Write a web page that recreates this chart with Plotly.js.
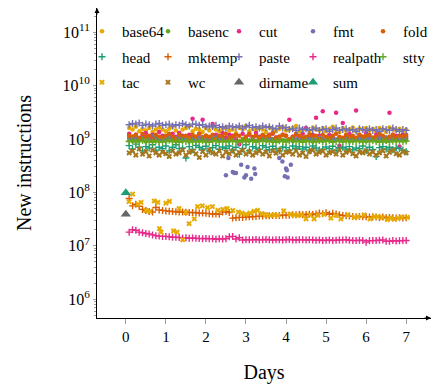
<!DOCTYPE html>
<html><head><meta charset="utf-8">
<script src="https://cdn.plot.ly/plotly-3.0.1.min.js"></script>
<style>html,body{margin:0;padding:0;background:#fff}#chart{width:435px;height:385px}</style>
</head><body><div id="chart"></div>
<script>
// Days (2-hour sampling)
const days = [
0.083,0.167,0.25,0.333,0.417,0.5,0.583,0.667,0.75,0.833,0.917,1,
1.083,1.167,1.25,1.333,1.417,1.5,1.583,1.667,1.75,1.833,1.917,2,
2.083,2.167,2.25,2.333,2.417,2.5,2.583,2.667,2.75,2.833,2.917,3,
3.083,3.167,3.25,3.333,3.417,3.5,3.583,3.667,3.75,3.833,3.917,4,
4.083,4.167,4.25,4.333,4.417,4.5,4.583,4.667,4.75,4.833,4.917,5,
5.083,5.167,5.25,5.333,5.417,5.5,5.583,5.667,5.75,5.833,5.917,6,
6.083,6.167,6.25,6.333,6.417,6.5,6.583,6.667,6.75,6.833,6.917,7];

const base64 = [
1.6e9,1.5e9,1.7e9,1.4e9,1.55e9,1.45e9,1.6e9,1.35e9,1.5e9,1.65e9,1.5e9,1.4e9,
1.55e9,1.7e9,1.45e9,1.3e9,1.5e9,1.6e9,1.75e9,1.4e9,1.55e9,1.5e9,1.35e9,1.6e9,
1.45e9,1.7e9,1.5e9,1.4e9,1.55e9,1.65e9,1.45e9,1.5e9,1.3e9,1.6e9,1.5e9,1.75e9,
1.4e9,1.55e9,1.45e9,1.6e9,1.5e9,1.35e9,1.65e9,1.5e9,1.4e9,1.55e9,1.7e9,1.45e9,
1.5e9,1.6e9,1.75e9,1.4e9,1.5e9,1.55e9,1.35e9,1.65e9,1.5e9,1.45e9,1.6e9,1.4e9,
1.55e9,1.7e9,1.5e9,1.35e9,1.6e9,1.45e9,1.5e9,1.65e9,1.4e9,1.55e9,1.5e9,1.6e9,
1.45e9,1.55e9,1.4e9,1.6e9,1.5e9,1.35e9,1.65e9,1.5e9,1.45e9,1.55e9,1.4e9,1.5e9];

const basenc = [
0.95e9,0.92e9,0.97e9,0.93e9,0.96e9,0.9e9,0.98e9,0.94e9,0.95e9,0.91e9,0.96e9,0.93e9,
0.97e9,0.95e9,0.92e9,0.98e9,0.94e9,0.96e9,0.9e9,0.95e9,0.97e9,0.93e9,0.95e9,0.91e9,
0.96e9,0.94e9,0.98e9,0.92e9,0.95e9,0.97e9,0.93e9,0.96e9,0.94e9,0.9e9,0.95e9,0.97e9,
0.93e9,0.96e9,0.92e9,0.95e9,0.98e9,0.94e9,0.96e9,0.91e9,0.95e9,0.93e9,0.97e9,0.94e9,
0.96e9,0.92e9,0.95e9,0.98e9,0.93e9,0.96e9,0.94e9,0.9e9,0.95e9,0.97e9,0.93e9,0.96e9,
0.94e9,0.92e9,0.97e9,0.95e9,0.93e9,0.96e9,0.91e9,0.95e9,0.97e9,0.94e9,0.96e9,0.92e9,
0.95e9,0.98e9,0.93e9,0.96e9,0.94e9,0.91e9,0.95e9,0.97e9,0.93e9,0.96e9,0.94e9,0.95e9];

const cut = [
1.25e9,1.1e9,1.2e9,1.0e9,1.15e9,1.3e9,1.05e9,1.2e9,1.1e9,1.35e9,1.15e9,1.0e9,
1.2e9,1.25e9,1.1e9,1.3e9,1.15e9,1.05e9,1.2e9,2.4e9,1.1e9,1.25e9,2.3e9,1.15e9,
1.0e9,1.9e9,1.2e9,1.1e9,1.3e9,1.05e9,1.2e9,1.15e9,1.0e9,0.8e9,1.25e9,1.1e9,
1.2e9,1.05e9,1.3e9,1.1e9,1.15e9,1.0e9,1.2e9,1.25e9,1.05e9,1.1e9,1.2e9,1.15e9,
2.3e9,1.1e9,1.2e9,1.05e9,1.25e9,1.6e9,1.1e9,1.2e9,2.5e9,1.15e9,3.3e9,1.05e9,
1.2e9,1.1e9,3.1e9,0.75e9,2.0e9,1.15e9,1.25e9,1.05e9,3.4e9,1.2e9,1.1e9,1.3e9,
1.15e9,1.0e9,1.2e9,1.25e9,1.1e9,1.05e9,3.1e9,1.2e9,1.15e9,0.72e9,1.2e9,1.1e9];

const fmtDays = [
0.083,0.167,0.25,0.333,0.417,0.5,0.583,0.667,0.75,0.833,0.917,1,
1.083,1.167,1.25,1.333,1.417,1.5,1.583,1.667,1.75,1.833,1.917,2,
2.083,2.167,2.25,2.333,2.417,
2.5,2.56,2.67,2.71,2.75,2.88,2.96,3.0,3.04,3.13,3.21,3.23,
3.333,3.417,3.5,3.583,3.667,3.75,
3.83,3.91,3.97,4.0,4.02,4.04,4.12,
4.167,4.25,4.333,4.417,4.5,4.583,4.667,4.75,4.833,4.917,5,
5.083,5.167,5.25,5.333,5.417,5.5,5.583,5.667,5.75,5.833,5.917,6,
6.083,6.167,6.25,6.333,6.417,6.5,6.583,6.667,6.75,6.833,6.917,7];
const fmt = [
1.05e9,1.0e9,1.1e9,0.98e9,1.05e9,1.08e9,1.0e9,1.12e9,1.03e9,0.97e9,1.06e9,1.02e9,
1.08e9,1.0e9,1.04e9,1.1e9,0.98e9,1.05e9,1.02e9,1.07e9,1.0e9,1.04e9,1.09e9,0.99e9,
1.05e9,1.02e9,1.08e9,1.0e9,1.04e9,
2.1e8,4.4e8,2.4e8,2.3e8,2.3e8,3.3e8,1.9e8,2.1e8,3.0e8,1.8e8,2.8e8,2.2e8,
1.02e9,1.06e9,0.98e9,1.04e9,1.0e9,1.07e9,
4.4e8,3.8e8,2.0e8,2.8e8,2.6e8,1.9e8,3.3e8,
1.03e9,0.99e9,1.06e9,1.02e9,1.08e9,1.0e9,1.04e9,0.97e9,1.05e9,1.01e9,1.07e9,
1.0e9,1.04e9,0.98e9,1.06e9,1.02e9,1.05e9,0.99e9,1.08e9,1.01e9,1.03e9,0.97e9,1.05e9,
1.02e9,1.06e9,1.0e9,1.04e9,0.98e9,1.07e9,1.01e9,1.03e9,1.05e9,0.99e9,1.04e9,1.02e9];

const fold = [
1.15e9,1.1e9,1.2e9,1.05e9,1.25e9,1.1e9,1.15e9,1.0e9,1.2e9,1.1e9,1.05e9,1.15e9,
1.25e9,1.1e9,1.0e9,1.2e9,1.1e9,1.15e9,1.05e9,1.2e9,1.1e9,1.25e9,1.05e9,1.15e9,
1.1e9,1.2e9,1.0e9,1.15e9,1.1e9,1.25e9,1.05e9,1.1e9,1.2e9,1.15e9,1.0e9,1.1e9,
1.25e9,1.1e9,1.15e9,1.05e9,1.2e9,1.1e9,1.15e9,1.3e9,1.05e9,1.1e9,1.2e9,1.15e9,
1.0e9,1.1e9,1.25e9,1.15e9,1.05e9,1.1e9,1.2e9,1.1e9,1.15e9,1.0e9,1.2e9,1.1e9,
1.05e9,1.15e9,1.25e9,1.1e9,1.05e9,1.2e9,1.1e9,1.15e9,1.05e9,1.2e9,1.1e9,1.15e9,
1.2e9,1.05e9,1.1e9,1.25e9,1.15e9,1.0e9,1.1e9,1.2e9,1.05e9,1.15e9,1.1e9,1.2e9];

const head = [
0.75e9,0.65e9,0.8e9,0.7e9,0.6e9,0.72e9,0.68e9,0.78e9,0.62e9,0.7e9,0.66e9,0.74e9,
0.6e9,0.7e9,0.78e9,0.66e9,0.68e9,0.44e9,0.72e9,0.63e9,0.76e9,0.7e9,0.65e9,0.73e9,
0.6e9,0.69e9,0.75e9,0.64e9,0.71e9,0.67e9,0.74e9,0.62e9,0.7e9,0.52e9,0.66e9,0.78e9,
0.6e9,0.72e9,0.68e9,0.64e9,0.75e9,0.7e9,0.63e9,0.73e9,0.66e9,0.6e9,0.71e9,0.69e9,
0.62e9,0.74e9,0.67e9,0.72e9,0.65e9,0.7e9,0.6e9,0.74e9,0.68e9,0.62e9,0.64e9,0.71e9,
0.66e9,0.73e9,0.61e9,0.69e9,0.7e9,0.65e9,0.72e9,0.63e9,0.68e9,0.66e9,0.74e9,0.6e9,
0.7e9,0.64e9,0.47e9,0.69e9,0.72e9,0.65e9,0.7e9,0.63e9,0.68e9,0.66e9,0.62e9,0.58e9];

const mktemp = [
7.7e7,5.6e7,6.0e7,5.5e7,4.8e7,4.6e7,4.4e7,4.3e7,5.2e7,4.7e7,4.6e7,4.5e7,
4.45e7,4.4e7,4.35e7,4.3e7,4.3e7,4.25e7,4.2e7,4.2e7,4.15e7,4.1e7,4.1e7,4.05e7,
4.0e7,3.95e7,3.95e7,3.9e7,4.3e7,4.4e7,4.2e7,3.3e7,3.35e7,3.4e7,3.4e7,3.45e7,
3.5e7,3.5e7,3.55e7,3.6e7,3.6e7,3.65e7,3.65e7,3.7e7,3.7e7,3.7e7,3.75e7,3.75e7,
3.75e7,3.8e7,3.8e7,3.85e7,3.8e7,3.85e7,3.9e7,3.85e7,3.95e7,4.1e7,4.0e7,4.15e7,
3.9e7,4.05e7,3.95e7,3.8e7,3.7e7,3.65e7,3.6e7,3.55e7,3.5e7,3.55e7,3.5e7,3.5e7,
3.45e7,3.5e7,3.45e7,3.4e7,3.45e7,3.35e7,3.4e7,3.35e7,3.3e7,3.35e7,3.3e7,3.35e7];

const paste = [
1.85e9,1.95e9,1.9e9,2.0e9,1.8e9,1.9e9,1.85e9,1.75e9,1.9e9,1.95e9,1.8e9,1.85e9,
1.9e9,1.75e9,1.85e9,1.8e9,1.95e9,1.85e9,1.75e9,1.9e9,1.9e9,1.8e9,1.85e9,1.7e9,
1.75e9,1.7e9,1.8e9,1.65e9,1.7e9,1.6e9,1.75e9,1.7e9,1.65e9,1.75e9,1.6e9,1.7e9,
1.8e9,1.65e9,1.7e9,1.6e9,1.75e9,1.65e9,1.7e9,1.6e9,1.55e9,1.75e9,1.6e9,1.65e9,
1.5e9,1.55e9,1.45e9,1.6e9,1.5e9,1.55e9,1.45e9,1.5e9,1.6e9,1.45e9,1.5e9,1.55e9,
1.4e9,1.5e9,1.6e9,1.45e9,1.5e9,1.55e9,1.45e9,1.5e9,1.4e9,1.55e9,1.5e9,1.45e9,
1.55e9,1.45e9,1.5e9,1.4e9,1.55e9,1.5e9,1.45e9,1.6e9,1.5e9,1.4e9,1.5e9,1.45e9];

const realpath = [
1.8e7,2.0e7,1.95e7,1.8e7,1.75e7,1.7e7,1.66e7,1.6e7,1.55e7,1.52e7,1.5e7,1.5e7,
1.48e7,1.45e7,1.45e7,1.43e7,1.4e7,1.42e7,1.38e7,1.4e7,1.38e7,1.37e7,1.36e7,1.37e7,
1.35e7,1.36e7,1.33e7,1.35e7,1.34e7,1.36e7,1.48e7,1.5e7,1.34e7,1.42e7,1.28e7,1.3e7,
1.3e7,1.3e7,1.31e7,1.29e7,1.3e7,1.31e7,1.3e7,1.28e7,1.3e7,1.3e7,1.29e7,1.3e7,
1.31e7,1.29e7,1.28e7,1.3e7,1.3e7,1.28e7,1.3e7,1.29e7,1.27e7,1.28e7,1.26e7,1.27e7,
1.28e7,1.26e7,1.27e7,1.28e7,1.29e7,1.3e7,1.27e7,1.26e7,1.25e7,1.27e7,1.26e7,1.17e7,
1.24e7,1.25e7,1.26e7,1.27e7,1.29e7,1.22e7,1.22e7,1.25e7,1.23e7,1.24e7,1.25e7,1.26e7];

const stty = [
0.9e9,0.93e9,0.88e9,0.91e9,0.94e9,0.89e9,0.92e9,0.87e9,0.93e9,0.9e9,0.88e9,0.92e9,
0.95e9,0.89e9,0.91e9,0.87e9,0.93e9,0.9e9,0.94e9,0.88e9,0.91e9,0.89e9,0.93e9,0.9e9,
0.87e9,0.92e9,0.94e9,0.89e9,0.91e9,0.88e9,0.93e9,0.9e9,0.92e9,0.87e9,0.94e9,0.89e9,
0.91e9,0.93e9,0.88e9,0.9e9,0.92e9,0.95e9,0.89e9,0.91e9,0.87e9,0.93e9,0.9e9,0.88e9,
0.92e9,0.94e9,0.89e9,0.91e9,0.87e9,0.93e9,0.9e9,0.92e9,0.88e9,0.94e9,0.89e9,0.91e9,
0.93e9,0.87e9,0.9e9,0.92e9,0.88e9,0.91e9,0.94e9,0.89e9,0.9e9,0.92e9,0.88e9,0.91e9,
0.89e9,0.93e9,0.9e9,0.87e9,0.92e9,0.94e9,0.88e9,0.91e9,0.9e9,0.93e9,0.89e9,0.92e9];

const tacDays = [0.08,0.17,0.3,0.38,0.5,0.6,0.71,0.8,0.84,0.88,1.0,1.09,1.19,1.28,1.33,1.42,1.5,1.58,1.71,1.79,
1.91,2.04,2.16,2.3,2.42,2.53,2.67,2.81,2.9,3.0,3.1,3.2,3.29,3.4,3.5,3.6,3.7,3.8,3.94,4.1,
4.2,4.3,4.4,4.5,4.6,4.7,4.8,4.95,5.12,5.25,5.37,5.54,5.7,5.8,5.95,6.1,6.2,6.29,6.4,6.53,
6.6,6.7,6.8,6.9,7.03];
const tac = [6.7e7,9.3e7,6.0e7,6.5e7,4.6e7,4.4e7,6.9e7,6.5e7,2.1e7,1.8e7,6.3e7,6.8e7,1.9e7,1.8e7,5.0e7,1.3e7,4.2e7,2.6e7,3.2e7,5.4e7,
5.6e7,5.2e7,5.4e7,4.6e7,4.8e7,5.0e7,4.6e7,4.3e7,4.1e7,3.9e7,4.1e7,4.4e7,4.6e7,4.0e7,3.8e7,3.7e7,3.8e7,3.7e7,4.5e7,3.9e7,
3.8e7,3.7e7,3.8e7,3.2e7,3.8e7,3.2e7,3.7e7,3.9e7,3.3e7,3.7e7,3.2e7,3.8e7,3.4e7,3.5e7,3.8e7,3.2e7,3.5e7,3.5e7,3.4e7,3.1e7,
3.3e7,3.15e7,3.3e7,3.4e7,3.4e7];

const wc = [
0.55e9,0.6e9,0.5e9,0.65e9,0.52e9,0.58e9,0.48e9,0.62e9,0.55e9,0.5e9,0.57e9,0.53e9,
0.47e9,0.6e9,0.52e9,0.55e9,0.62e9,0.5e9,0.56e9,0.6e9,0.53e9,0.45e9,0.58e9,0.5e9,
0.62e9,0.55e9,0.52e9,0.6e9,0.48e9,0.57e9,0.53e9,0.6e9,0.5e9,0.56e9,0.62e9,0.52e9,
0.58e9,0.5e9,0.55e9,0.6e9,0.52e9,0.57e9,0.48e9,0.6e9,0.54e9,0.62e9,0.5e9,0.56e9,
0.58e9,0.52e9,0.6e9,0.5e9,0.55e9,0.47e9,0.58e9,0.62e9,0.52e9,0.56e9,0.6e9,0.5e9,
0.55e9,0.58e9,0.52e9,0.62e9,0.5e9,0.56e9,0.6e9,0.53e9,0.48e9,0.57e9,0.55e9,0.6e9,
0.52e9,0.57e9,0.5e9,0.55e9,0.6e9,0.48e9,0.56e9,0.62e9,0.53e9,0.5e9,0.58e9,0.55e9];

const dirnameDays = [0];
const dirname = [3.9e7];
const sumDays = [0];
const sum = [9.8e7];

const yTickVals = [1e6,1e7,1e8,1e9,1e10,1e11];
const yTickText = ['10<sup>6</sup>','10<sup>7</sup>','10<sup>8</sup>','10<sup>9</sup>','10<sup>10</sup>','10<sup>11</sup>'];
const xTickVals = [0,1,2,3,4,5,6,7];

const FONT = '"Liberation Serif", serif';
const C = {teal:'#1b9e77', orange:'#d95f02', purple:'#7570b3', pink:'#e7298a', green:'#66a61e', gold:'#e6ab02', brown:'#a6761d', gray:'#666666'};

function dot(name, x, y, color, lg) {
  return {type:'scatter', mode:'markers', name, x, y, legend:lg, legendgroup:name,
    marker:{symbol:'circle', size:4.5, color}};
}
function plus(name, x, y, color, lg) {
  return {type:'scatter', mode:'markers', name, x, y, legend:lg, legendgroup:name,
    marker:{symbol:'cross-thin', size:5, color, line:{color, width:1.4}}};
}
function cross(name, x, y, color, lg) {
  return {type:'scatter', mode:'markers', name, x, y, legend:lg, legendgroup:name,
    marker:{symbol:'x', size:5, color, line:{width:0}}};
}
function tri(name, x, y, color, lg) {
  return {type:'scatter', mode:'markers', name, x, y, legend:lg, legendgroup:name,
    marker:{symbol:'triangle-up', size:9, color}};
}

const traces = [
  dot('base64', days, base64, C.gold, 'legend'),
  dot('basenc', days, basenc, C.green, 'legend2'),
  dot('cut', days, cut, C.pink, 'legend3'),
  dot('fmt', fmtDays, fmt, C.purple, 'legend4'),
  dot('fold', days, fold, C.orange, 'legend5'),
  plus('head', days, head, C.teal, 'legend'),
  plus('mktemp', days, mktemp, C.orange, 'legend2'),
  plus('paste', days, paste, C.purple, 'legend3'),
  plus('realpath', days, realpath, C.pink, 'legend4'),
  plus('stty', days, stty, C.green, 'legend5'),
  cross('tac', tacDays, tac, C.gold, 'legend'),
  cross('wc', days, wc, C.brown, 'legend2'),
  tri('dirname', dirnameDays, dirname, C.gray, 'legend3'),
  tri('sum', sumDays, sum, C.teal, 'legend4')
];

const L = 97, R = 3, T = 8, B = 67, W = 435, H = 385;
const pw = W - L - R, ph = H - T - B;
function lx(px){ return (px - L) / pw; }
function ly(py){ return (H - B - py) / ph; }
function legendAt(px) {
  return {x: lx(px), y: ly(15), xanchor:'left', yanchor:'top', orientation:'v',
    bgcolor:'rgba(0,0,0,0)', borderwidth:0, traceorder:'grouped', tracegroupgap:3,
    font:{family:FONT, size:15, color:'#000'}, itemclick:false, itemdoubleclick:false};
}

const yr = [5.648, 11.453];
const xr = [-0.72, 7.62];
const tickCol = '#9a9a9a';

const layout = {
  width: W, height: H,
  margin: {l:L, r:R, t:T, b:B, pad:0},
  paper_bgcolor:'#fff', plot_bgcolor:'#fff',
  showlegend:true,
  font:{family:FONT, color:'#000'},
  legend: legendAt(82),
  legend2: legendAt(148),
  legend3: legendAt(219),
  legend4: legendAt(293),
  legend5: legendAt(363),
  xaxis: {range:xr, showgrid:false, zeroline:false, showline:true, linecolor:'#000', linewidth:1,
    tickmode:'array', tickvals:xTickVals, ticks:'outside', ticklen:5, tickcolor:tickCol, tickwidth:1,
    tickfont:{family:FONT, size:15, color:'#000'},
    title:{text:'Days', font:{family:FONT, size:20, color:'#000'}, standoff:20}},
  xaxis2: {range:xr, overlaying:'x', anchor:'y', side:'bottom', showgrid:false, zeroline:false, showline:false,
    tickmode:'array', tickvals:xTickVals, ticks:'inside', ticklen:5, tickcolor:tickCol, showticklabels:false},
  yaxis: {type:'log', range:yr, showgrid:false, zeroline:false, showline:true, linecolor:'#000', linewidth:1,
    tickmode:'array', tickvals:yTickVals, ticktext:yTickText, ticks:'outside', ticklen:3, tickcolor:tickCol, tickwidth:1,
    minor:{ticks:'outside', ticklen:2, tickcolor:tickCol, dtick:'D1', showgrid:false},
    tickfont:{family:FONT, size:16, color:'#000'},
    title:{text:'New instructions', font:{family:FONT, size:20, color:'#000'}, standoff:25}},
  yaxis2: {type:'log', range:yr, overlaying:'y', anchor:'x', side:'left', showgrid:false, zeroline:false, showline:false,
    tickmode:'array', tickvals:yTickVals, ticks:'inside', ticklen:5, tickcolor:tickCol, showticklabels:false,
    minor:{ticks:'inside', ticklen:3, tickcolor:tickCol, dtick:'D1', showgrid:false}},
  annotations: [
    {xref:'paper', yref:'paper', x:0, y:1, text:'', showarrow:true, ax:0, ay:8, arrowhead:2, arrowsize:1, arrowwidth:1, arrowcolor:'#000'},
    {xref:'paper', yref:'paper', x:1, y:0, text:'', showarrow:true, ax:-8, ay:0, arrowhead:2, arrowsize:1, arrowwidth:1, arrowcolor:'#000'}
  ],
  hovermode:false
};

Plotly.newPlot('chart', traces, layout, {staticPlot:true, displayModeBar:false});
</script>
</body></html>
